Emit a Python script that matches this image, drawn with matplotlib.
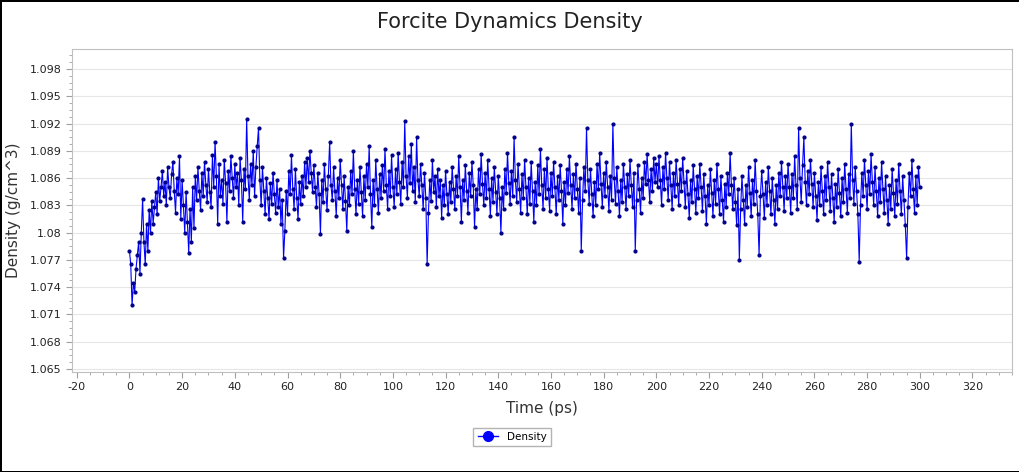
import numpy as np
import matplotlib
matplotlib.use('Agg')
import matplotlib.pyplot as plt
from matplotlib.lines import Line2D
from matplotlib.ticker import MultipleLocator, FuncFormatter

# trajectory frames every 0.5 ps, 0 - 300 ps
frame_step_ps = 0.5

density = [
    # 0-10
    1.0780, 1.0765, 1.0720, 1.0745, 1.0735, 1.0760, 1.0775, 1.0790, 1.0755, 1.0800,
    1.0837, 1.0790, 1.0765, 1.0810, 1.0780, 1.0825, 1.0800, 1.0835, 1.0810, 1.0828,
    # 10-20
    1.0845, 1.0820, 1.0860, 1.0835, 1.0850, 1.0868, 1.0840, 1.0856, 1.0830, 1.0872,
    1.0850, 1.0838, 1.0864, 1.0878, 1.0846, 1.0822, 1.0860, 1.0842, 1.0884, 1.0815,
    # 20-30
    1.0858, 1.0830, 1.0800, 1.0845, 1.0812, 1.0778, 1.0826, 1.0790, 1.0850, 1.0805,
    1.0862, 1.0836, 1.0872, 1.0846, 1.0825, 1.0866, 1.0840, 1.0878, 1.0852, 1.0834,
    # 30-40
    1.0870, 1.0845, 1.0828, 1.0885, 1.0850, 1.0900, 1.0862, 1.0810, 1.0875, 1.0840,
    1.0858, 1.0832, 1.0880, 1.0855, 1.0812, 1.0868, 1.0846, 1.0884, 1.0860, 1.0838,
    # 40-50
    1.0875, 1.0850, 1.0866, 1.0830, 1.0882, 1.0858, 1.0812, 1.0870, 1.0848, 1.0925,
    1.0862, 1.0836, 1.0876, 1.0852, 1.0890, 1.0840, 1.0872, 1.0895, 1.0915, 1.0858,
    # 50-60
    1.0830, 1.0872, 1.0846, 1.0820, 1.0860, 1.0838, 1.0815, 1.0855, 1.0832, 1.0866,
    1.0842, 1.0822, 1.0858, 1.0828, 1.0848, 1.0810, 1.0836, 1.0772, 1.0802, 1.0846,
    # 60-70
    1.0820, 1.0868, 1.0842, 1.0885, 1.0848, 1.0826, 1.0870, 1.0838, 1.0815, 1.0856,
    1.0832, 1.0862, 1.0840, 1.0878, 1.0850, 1.0882, 1.0856, 1.0890, 1.0866, 1.0845,
    # 70-80
    1.0874, 1.0850, 1.0828, 1.0866, 1.0842, 1.0798, 1.0858, 1.0834, 1.0876, 1.0848,
    1.0825, 1.0862, 1.0900, 1.0852, 1.0836, 1.0872, 1.0846, 1.0818, 1.0860, 1.0838,
    # 80-90
    1.0880, 1.0852, 1.0826, 1.0862, 1.0835, 1.0802, 1.0850, 1.0830, 1.0868, 1.0842,
    1.0890, 1.0848, 1.0820, 1.0858, 1.0832, 1.0872, 1.0845, 1.0818, 1.0862, 1.0836,
    # 90-100
    1.0876, 1.0850, 1.0895, 1.0842, 1.0806, 1.0858, 1.0830, 1.0880, 1.0848, 1.0822,
    1.0864, 1.0838, 1.0874, 1.0846, 1.0892, 1.0852, 1.0826, 1.0868, 1.0840, 1.0885,
    # 100-110
    1.0850, 1.0828, 1.0870, 1.0842, 1.0888, 1.0856, 1.0832, 1.0878, 1.0850, 1.0923,
    1.0862, 1.0838, 1.0884, 1.0855, 1.0898, 1.0846, 1.0872, 1.0834, 1.0905, 1.0858,
    # 110-120
    1.0840, 1.0876, 1.0852, 1.0826, 1.0866, 1.0838, 1.0765, 1.0822, 1.0858, 1.0835,
    1.0880, 1.0845, 1.0862, 1.0828, 1.0870, 1.0840, 1.0858, 1.0816, 1.0852, 1.0830,
    # 120-130
    1.0868, 1.0842, 1.0820, 1.0856, 1.0834, 1.0872, 1.0848, 1.0826, 1.0862, 1.0840,
    1.0884, 1.0850, 1.0812, 1.0858, 1.0836, 1.0874, 1.0846, 1.0822, 1.0866, 1.0840,
    # 130-140
    1.0878, 1.0852, 1.0806, 1.0848, 1.0826, 1.0870, 1.0842, 1.0886, 1.0854, 1.0830,
    1.0866, 1.0838, 1.0880, 1.0848, 1.0818, 1.0860, 1.0834, 1.0872, 1.0845, 1.0820,
    # 140-150
    1.0862, 1.0838, 1.0800, 1.0850, 1.0826, 1.0870, 1.0844, 1.0888, 1.0855, 1.0832,
    1.0868, 1.0840, 1.0905, 1.0858, 1.0834, 1.0876, 1.0848, 1.0822, 1.0864, 1.0838,
    # 150-160
    1.0880, 1.0850, 1.0820, 1.0860, 1.0832, 1.0878, 1.0846, 1.0812, 1.0856, 1.0830,
    1.0874, 1.0842, 1.0892, 1.0852, 1.0826, 1.0870, 1.0838, 1.0882, 1.0848, 1.0824,
    # 160-170
    1.0866, 1.0840, 1.0878, 1.0850, 1.0820, 1.0862, 1.0836, 1.0874, 1.0846, 1.0810,
    1.0856, 1.0830, 1.0870, 1.0844, 1.0884, 1.0852, 1.0826, 1.0864, 1.0838, 1.0876,
    # 170-180
    1.0848, 1.0822, 1.0860, 1.0780, 1.0836, 1.0872, 1.0846, 1.0915, 1.0858, 1.0832,
    1.0870, 1.0842, 1.0818, 1.0856, 1.0830, 1.0876, 1.0848, 1.0888, 1.0854, 1.0828,
    # 180-190
    1.0866, 1.0840, 1.0878, 1.0850, 1.0824, 1.0862, 1.0836, 1.0920, 1.0860, 1.0832,
    1.0872, 1.0846, 1.0818, 1.0858, 1.0834, 1.0876, 1.0850, 1.0826, 1.0864, 1.0840,
    # 190-200
    1.0880, 1.0852, 1.0828, 1.0866, 1.0780, 1.0836, 1.0874, 1.0848, 1.0822, 1.0860,
    1.0838, 1.0878, 1.0854, 1.0886, 1.0858, 1.0834, 1.0870, 1.0846, 1.0882, 1.0856,
    # 200-210
    1.0876, 1.0850, 1.0884, 1.0858, 1.0830, 1.0872, 1.0848, 1.0888, 1.0860, 1.0836,
    1.0878, 1.0852, 1.0826, 1.0866, 1.0840, 1.0880, 1.0854, 1.0830, 1.0870, 1.0846,
    # 210-220
    1.0882, 1.0856, 1.0828, 1.0868, 1.0842, 1.0816, 1.0858, 1.0834, 1.0874, 1.0848,
    1.0822, 1.0862, 1.0838, 1.0876, 1.0850, 1.0824, 1.0864, 1.0840, 1.0810, 1.0852,
    # 220-230
    1.0830, 1.0870, 1.0844, 1.0818, 1.0858, 1.0832, 1.0876, 1.0848, 1.0820, 1.0862,
    1.0836, 1.0812, 1.0854, 1.0828, 1.0866, 1.0842, 1.0888, 1.0852, 1.0826, 1.0860,
    # 230-240
    1.0834, 1.0808, 1.0848, 1.0770, 1.0826, 1.0862, 1.0836, 1.0810, 1.0852, 1.0828,
    1.0872, 1.0844, 1.0818, 1.0858, 1.0832, 1.0880, 1.0846, 1.0820, 1.0775, 1.0840,
    # 240-250
    1.0868, 1.0842, 1.0816, 1.0856, 1.0830, 1.0872, 1.0846, 1.0820, 1.0860, 1.0836,
    1.0810, 1.0852, 1.0826, 1.0866, 1.0840, 1.0878, 1.0850, 1.0824, 1.0862, 1.0838,
    # 250-260
    1.0876, 1.0850, 1.0822, 1.0864, 1.0838, 1.0884, 1.0852, 1.0826, 1.0915, 1.0860,
    1.0834, 1.0874, 1.0905, 1.0856, 1.0830, 1.0868, 1.0842, 1.0880, 1.0854, 1.0828,
    # 260-270
    1.0866, 1.0840, 1.0814, 1.0856, 1.0830, 1.0872, 1.0846, 1.0820, 1.0862, 1.0836,
    1.0878, 1.0850, 1.0824, 1.0864, 1.0838, 1.0812, 1.0854, 1.0828, 1.0870, 1.0844,
    # 270-280
    1.0818, 1.0860, 1.0834, 1.0876, 1.0848, 1.0822, 1.0864, 1.0838, 1.0920, 1.0858,
    1.0832, 1.0872, 1.0846, 1.0820, 1.0768, 1.0830, 1.0866, 1.0840, 1.0880, 1.0852,
    # 280-290
    1.0826, 1.0868, 1.0842, 1.0886, 1.0856, 1.0830, 1.0872, 1.0846, 1.0818, 1.0860,
    1.0834, 1.0878, 1.0848, 1.0822, 1.0862, 1.0836, 1.0810, 1.0852, 1.0826, 1.0870,
    # 290-300
    1.0844, 1.0818, 1.0858, 1.0832, 1.0876, 1.0846, 1.0820, 1.0862, 1.0836, 1.0808,
    1.0772, 1.0828, 1.0866, 1.0840, 1.0880, 1.0848, 1.0822, 1.0862, 1.0830, 1.0872,
    1.0850,
]

time_ps = np.arange(len(density)) * frame_step_ps

plt.rcParams['font.family'] = 'DejaVu Sans'
plt.rcParams['axes.unicode_minus'] = False

fig = plt.figure(figsize=(10.2, 4.72), dpi=100)
fig.patch.set_edgecolor('black')
fig.patch.set_linewidth(2)
ax = fig.add_axes([72/1020, 100/472, 940/1020, 323/472])

ax.plot(time_ps, density, color='#0000ff', lw=0.8, marker='o', ms=2,
        mfc='#00008b', mec='#00008b')

ax.set_xlim(-21.8, 335)
ax.set_ylim(1.06467, 1.1002)
ax.xaxis.set_major_locator(MultipleLocator(20))
ax.xaxis.set_minor_locator(MultipleLocator(5))
ax.yaxis.set_major_locator(MultipleLocator(0.003))
ax.yaxis.set_minor_locator(MultipleLocator(0.00075))
ax.yaxis.set_major_formatter(FuncFormatter(lambda v, p: f'{v:.3f}'.rstrip('0')))

ax.grid(axis='y', color='#e6e6e6', lw=0.8)
ax.set_axisbelow(True)
for s in ax.spines.values():
    s.set_color('#c0c0c0')
ax.tick_params(which='both', colors='#a0a0a0', labelcolor='#222222', labelsize=8)
ax.tick_params(which='major', length=4)
ax.tick_params(which='minor', length=2)

ax.set_xlabel('Time (ps)', fontsize=11, color='#333333', labelpad=6)
ax.set_ylabel('Density (g/cm^3)', fontsize=11, color='#333333', labelpad=6)
fig.suptitle('Forcite Dynamics Density', fontsize=15, color='#222222', y=0.975)

handle = Line2D([], [], color='#0000ff', marker='o', ms=7, lw=1)
leg = fig.legend([handle], ['Density'], loc='center',
                 bbox_to_anchor=(512/1020, 1 - 437/472), fontsize=7.5,
                 frameon=True, fancybox=False, handlelength=2, borderpad=0.4)
leg.get_frame().set_edgecolor('#a0a0a0')

fig.savefig('out.png', dpi=100, edgecolor=fig.get_edgecolor())
